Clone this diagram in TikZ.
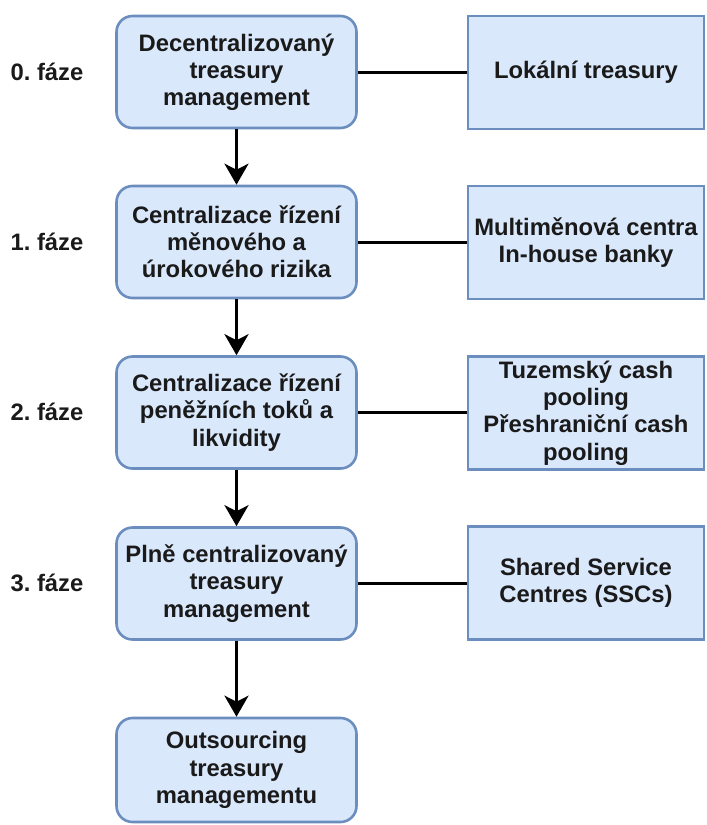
\documentclass[tikz,border=0pt]{standalone}
\usepackage{fontspec}
\setmainfont{Liberation Sans}
\frenchspacing
\usetikzlibrary{arrows.meta}
\definecolor{boxfill}{HTML}{DAE8FC}
\definecolor{boxdraw}{HTML}{6C8EBF}
\definecolor{txt}{HTML}{1A1A1A}
\tikzset{
  base/.style={draw=boxdraw, fill=boxfill, line width=2.6pt, align=center, inner sep=0pt,
    text=txt, font=\fontsize{23.8}{27.2}\selectfont\bfseries},
  phasebox/.style={base, rounded corners=16pt, minimum width=240pt, minimum height=112pt},
  sidebox/.style={base, minimum width=236pt, minimum height=113pt},
  phaselabel/.style={text=txt, font=\fontsize{23.8}{27.2}\selectfont\bfseries, inner sep=0pt},
  flow/.style={line width=3pt, -{Stealth[length=21pt,width=24pt,inset=6pt]}},
  link/.style={line width=3pt}
}
\begin{document}
\begin{tikzpicture}[x=1pt,y=-1pt]
\useasboundingbox (0,0) rectangle (707,825);
\node[phasebox] (p0) at (236.5,72) {Decentralizovaný\\treasury\\management};
\node[phasebox] (p1) at (236.5,242) {Centralizace řízení\\měnového a\\úrokového rizika};
\node[phasebox] (p2) at (236.5,412.5) {Centralizace řízení\\peněžních toků a\\likvidity};
\node[phasebox] (p3) at (236.5,583.5) {Plně centralizovaný\\treasury\\management};
\node[phasebox, minimum height=104pt] (p4) at (236.5,770) {Outsourcing\\treasury\\managementu};
\node[sidebox] (s0) at (586,72.5) {Lokální treasury};
\node[sidebox] (s1) at (586,242.5) {Multiměnová centra\\In-house banky};
\node[sidebox] (s2) at (586,413) {Tuzemský cash\\pooling\\Přeshraniční cash\\pooling};
\node[sidebox] (s3) at (586,583) {Shared Service\\Centres (SSCs)};
\node[phaselabel] (f0) at (47,72) {0. fáze};
\node[phaselabel] (f1) at (47,242) {1. fáze};
\node[phaselabel] (f2) at (47,412) {2. fáze};
\node[phaselabel] (f3) at (47,583) {3. fáze};
\draw[flow] (p0) -- (p1);
\draw[flow] (p1) -- (p2);
\draw[flow] (p2) -- (p3);
\draw[flow] (p3) -- (p4);
\draw[link] (p0.east) -- (p0.east -| s0.west);
\draw[link] (p1.east) -- (p1.east -| s1.west);
\draw[link] (p2.east) -- (p2.east -| s2.west);
\draw[link] (p3.east) -- (p3.east -| s3.west);
\end{tikzpicture}
\end{document}
